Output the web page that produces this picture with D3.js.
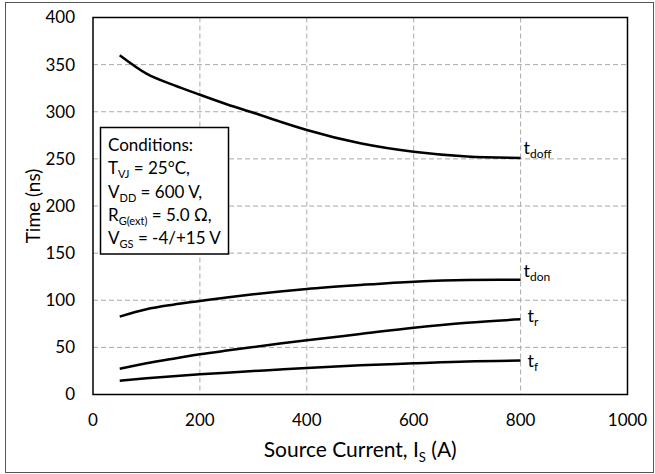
<!DOCTYPE html>
<html>
<head>
<meta charset="utf-8">
<script src="https://cdn.jsdelivr.net/npm/d3@7"></script>
<style>
  body { margin: 0; background: #fff; }
  text { font-family: Lato, "Noto Sans", sans-serif; fill: #000; }
</style>
</head>
<body>
<div id="chart"></div>
<script>
// data
var current = [50, 100, 150, 200, 250, 300, 350, 400, 500, 600, 700, 800];
var tdoff = [360, 340.5, 328.5, 318, 308, 299, 289.5, 280.6, 266.5, 257.5, 252.5, 251];
var tdon  = [82.6, 90.4, 95.3, 99.2, 103, 106.3, 109.3, 112, 116.2, 119.7, 121.5, 121.8];
var tr    = [27.4, 33.1, 38, 42.6, 46.6, 50.4, 54, 57.5, 64.2, 70.9, 76.2, 79.8];
var tf    = [14.6, 17.2, 19.4, 21.4, 23.2, 24.9, 26.6, 28.2, 31, 33.1, 35.1, 36];
var xTicks = [0, 200, 400, 600, 800, 1000];
var yTicks = [0, 50, 100, 150, 200, 250, 300, 350, 400];

var series = [
  { name: "t", sub: "doff", values: tdoff, dy: -4 },
  { name: "t", sub: "don", values: tdon, dy: -3 },
  { name: "t", sub: "r", values: tr, dy: 3 },
  { name: "t", sub: "f", values: tf, dy: 6 }
];

var width = 655, height = 474;
var margin = {left: 93, right: 27.5, top: 17.5, bottom: 79.5};

var svg = d3.select("#chart").append("svg")
    .attr("width", width)
    .attr("height", height);

// outer frame
svg.append("rect")
    .attr("x", 5.5).attr("y", 2.5)
    .attr("width", 648).attr("height", 470)
    .attr("fill", "none")
    .attr("stroke", "#555")
    .attr("stroke-width", 1);

var x = d3.scaleLinear().domain([0, 1000]).range([margin.left, width - margin.right]);
var y = d3.scaleLinear().domain([0, 400]).range([height - margin.bottom, margin.top]);

// grid
svg.append("g").selectAll("line.v")
    .data(xTicks.slice(1, -1))
    .enter().append("line")
    .attr("x1", d => x(d)).attr("x2", d => x(d))
    .attr("y1", y(400)).attr("y2", y(0))
    .attr("stroke", "#aaa").attr("stroke-width", 1)
    .attr("stroke-dasharray", "5,3");

svg.append("g").selectAll("line.h")
    .data(yTicks.slice(1, -1))
    .enter().append("line")
    .attr("x1", x(0)).attr("x2", x(1000))
    .attr("y1", d => y(d)).attr("y2", d => y(d))
    .attr("stroke", "#aaa").attr("stroke-width", 1)
    .attr("stroke-dasharray", "5,3");

// plot border
svg.append("rect")
    .attr("x", x(0)).attr("y", y(400))
    .attr("width", x(1000) - x(0)).attr("height", y(0) - y(400))
    .attr("fill", "none")
    .attr("stroke", "#000")
    .attr("stroke-width", 1.5);

// tick labels
svg.append("g").selectAll("text")
    .data(xTicks)
    .enter().append("text")
    .attr("x", d => x(d))
    .attr("y", y(0) + 31)
    .attr("text-anchor", "middle")
    .style("font-size", "17px")
    .text(d => d);

svg.append("g").selectAll("text")
    .data(yTicks)
    .enter().append("text")
    .attr("x", x(0) - 18)
    .attr("y", d => y(d))
    .attr("dy", "0.35em")
    .attr("text-anchor", "end")
    .style("font-size", "17px")
    .text(d => d);

// axis titles
var xt = svg.append("text")
    .attr("x", (x(0) + x(1000)) / 2)
    .attr("y", 457)
    .attr("text-anchor", "middle")
    .style("font-size", "21px");
xt.append("tspan").text("Source Current, I");
xt.append("tspan").attr("dy", 5).style("font-size", "13px").text("S");
xt.append("tspan").attr("dy", -5).text(" (A)");

svg.append("text")
    .attr("transform", "translate(40," + ((y(0) + y(400)) / 2) + ") rotate(-90)")
    .attr("text-anchor", "middle")
    .style("font-size", "19px")
    .text("Time (ns)");

// curves
var line = d3.line()
    .x((d, i) => x(current[i]))
    .y(d => y(d))
    .curve(d3.curveMonotoneX);

svg.append("g").selectAll("path")
    .data(series)
    .enter().append("path")
    .attr("d", d => line(d.values))
    .attr("fill", "none")
    .attr("stroke", "#000")
    .attr("stroke-width", 2.5);

// curve labels
var lab = svg.append("g").selectAll("text")
    .data(series)
    .enter().append("text")
    .attr("x", d => x(current[current.length - 1]) + (d.sub.length > 1 ? 3 : 7))
    .attr("y", d => y(d.values[d.values.length - 1]) + d.dy)
    .style("font-size", "18px");
lab.append("tspan").text(d => d.name);
lab.append("tspan").attr("dy", 4).style("font-size", "12px").text(d => d.sub);

// conditions box
svg.append("rect")
    .attr("x", 100.5).attr("y", 127.5)
    .attr("width", 128).attr("height", 126.5)
    .attr("fill", "#fff")
    .attr("stroke", "#000")
    .attr("stroke-width", 1.5);

var conds = [
  ["Conditions:", "", ""],
  ["T", "VJ", " = 25°C,"],
  ["V", "DD", " = 600 V,"],
  ["R", "G(ext)", " = 5.0 Ω,"],
  ["V", "GS", " = -4/+15 V"]
];
var ct = svg.append("g").selectAll("text")
    .data(conds)
    .enter().append("text")
    .attr("x", 108)
    .attr("y", (d, i) => 151 + i * 23.3)
    .style("font-size", "17px");
ct.append("tspan").text(d => d[0]);
ct.append("tspan").attr("dy", 4).style("font-size", "11px").text(d => d[1]);
ct.append("tspan").attr("dy", d => d[1] ? -4 : 0).text(d => d[2]);
</script>
</body>
</html>
